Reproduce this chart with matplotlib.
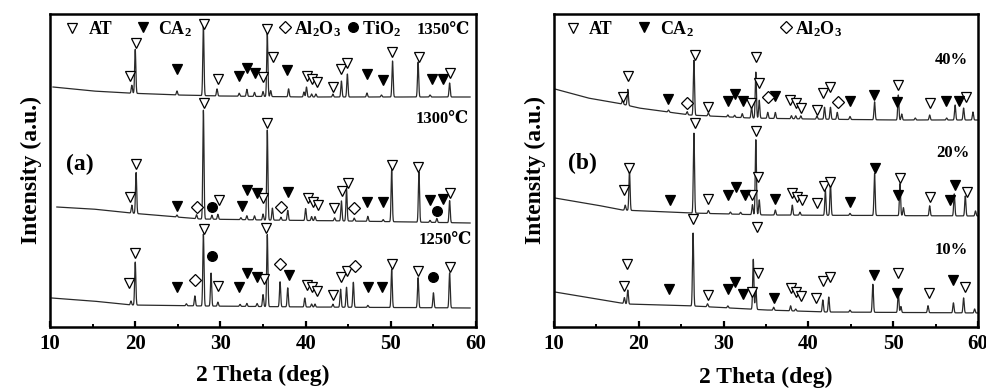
import numpy as np
import matplotlib
matplotlib.use("Agg")
import matplotlib.pyplot as plt
from matplotlib.ticker import MultipleLocator

plt.rcParams['font.family'] = ['Liberation Serif', 'DejaVu Serif']
plt.rcParams['font.weight'] = 'bold'
plt.rcParams['axes.labelweight'] = 'bold'
plt.rcParams['mathtext.fontset'] = 'custom'
plt.rcParams['mathtext.rm'] = 'Liberation Serif:bold'
plt.rcParams['mathtext.bf'] = 'Liberation Serif:bold'
plt.rcParams['mathtext.default'] = 'bf'

# ---- panel (a): sintering temperature ----
# baseline anchors (2theta, intensity a.u.)
b1350_x = [10.35, 15, 19, 25, 30, 40, 59.3]
b1350_y = [240, 236, 234, 232, 231, 230, 230]
p1350_x = [19.6, 20.0, 24.9, 28.0, 29.6, 32.2, 33.1, 34.0, 35.0, 35.5, 35.9, 38.0, 39.8, 40.1,
           40.7, 41.2, 43.2, 44.2, 44.9, 47.2, 48.9, 50.2, 53.2, 54.6, 56.9]
p1350_h = [8, 44, 4, 70, 7, 3, 7, 4, 5, 63, 6, 8, 5, 10, 3, 3, 3, 16, 23, 4, 2, 36, 35, 2, 14]

b1300_x = [10.8, 15, 19.4, 27.6, 35, 45, 59.3]
b1300_y = [120, 118, 114, 108, 107, 106, 104]
p1300_x = [19.6, 20.1, 24.9, 27.2, 28.0, 29.0, 29.7, 32.4, 33.1, 34.0, 35.0, 35.5, 36.1, 37.1,
           37.9, 40.0, 40.7, 41.1, 43.4, 44.2, 44.8, 45.7, 47.3, 49.1, 50.1, 53.3, 54.6, 55.4, 56.9]
p1300_h = [8, 41, 2, 4, 109, 4, 5, 2, 4, 4, 6, 90, 12, 3, 10, 12, 4, 4, 3, 20, 32, 3, 5, 2,
           52, 50, 2, 4, 22]

b1250_x = [10.2, 15, 19.5, 28, 40, 59.3]
b1250_y = [29, 26, 22, 21, 20, 19]
p1250_x = [19.5, 20.0, 26.0, 27.0, 28.0, 28.9, 29.7, 32.3, 33.1, 34.3, 35.0, 35.5, 37.0, 37.9,
           39.9, 40.7, 41.1, 43.2, 44.1, 44.8, 45.6, 47.3, 50.1, 53.2, 55.0, 56.9]
p1250_h = [4, 43, 2, 10, 72, 33, 4, 2, 3, 3, 12, 72, 25, 19, 9, 3, 3, 3, 18, 20, 25, 2, 38,
           30, 15, 35]

# phase markers (2theta, intensity)
at_a = [(19.4, 251), (20.1, 284), (28.1, 303), (29.7, 248), (35.0, 250), (35.5, 298), (36.2, 270),
        (40.2, 251), (40.7, 248), (41.3, 245), (43.2, 240), (44.2, 258), (44.9, 264), (50.1, 275),
        (53.3, 270), (56.9, 254),
        (19.4, 130), (20.1, 163), (28.1, 224), (29.8, 127), (35.0, 129), (35.5, 204), (40.3, 129),
        (40.9, 125), (41.5, 122), (43.3, 119), (44.3, 136), (45.0, 144), (50.1, 162), (53.2, 160),
        (56.9, 134),
        (19.3, 44), (20.0, 74), (28.1, 98), (29.7, 41), (35.1, 48), (35.4, 99), (40.2, 42),
        (40.7, 40), (41.3, 36), (43.2, 32), (44.1, 50), (44.8, 56), (50.1, 63), (53.2, 56),
        (56.9, 60)]
ca2_a = [(24.9, 258), (32.2, 251), (33.1, 259), (34.1, 254), (37.8, 257), (47.2, 253), (49.1, 247),
         (54.8, 248), (56.1, 248),
         (24.9, 121), (32.5, 121), (33.1, 137), (34.3, 134), (37.9, 135), (47.2, 125), (49.1, 125),
         (54.6, 127), (56.1, 128),
         (24.9, 40), (32.2, 40), (33.1, 54), (34.3, 50), (38.1, 52), (47.3, 40), (49.0, 40)]
al2o3_a = [(27.2, 120), (37.1, 120), (45.7, 119), (27.0, 47), (37.0, 63), (45.8, 61)]
tio2_a = [(29.0, 120), (55.4, 116), (29.0, 71), (55.0, 50)]
labels_a = [(59.3, 297, '1350℃'), (59.1, 208, '1300℃'), (59.5, 87, '1250℃')]

# ---- panel (b): additive content ----
b40_x = [10.1, 14, 18, 20, 26, 33, 40, 50, 60]
b40_y = [238, 229, 223, 219, 212, 209, 208, 207, 207]
p40_x = [18.1, 18.7, 23.5, 25.7, 26.5, 28.2, 30.5, 31.3, 32.2, 33.3, 33.8, 34.2, 35.2, 36.1, 38.0,
         38.5, 39.1, 41.0, 41.9, 42.6, 43.4, 44.9, 47.8, 50.6, 51.0, 52.6, 54.3, 56.3, 57.3, 58.3, 59.4]
p40_h = [5, 16, 2, 3, 55, 3, 2, 2, 4, 11, 46, 18, 6, 6, 3, 3, 3, 3, 12, 12, 7, 3, 18, 25, 6, 2,
         5, 2, 15, 12, 8]

b20_x = [10.1, 15, 18, 26, 35, 60]
b20_y = [129, 122, 117, 114, 112, 111]
p20_x = [18.4, 18.9, 26.5, 28.2, 30.8, 32.0, 33.4, 33.8, 34.2, 36.1, 38.1, 39.0, 42.0, 42.6, 44.9,
         47.8, 50.8, 51.2, 54.3, 57.2, 58.5, 59.7]
p20_h = [5, 40, 80, 3, 2, 2, 10, 75, 15, 5, 10, 3, 25, 32, 2, 42, 32, 8, 10, 22, 20, 5]

b10_x = [10.1, 15, 18.6, 26.4, 35, 42, 60]
b10_y = [35, 28, 23, 21, 17, 15, 14]
p10_x = [18.3, 18.7, 26.4, 28.1, 30.5, 33.5, 33.8, 35.9, 37.9, 38.5, 41.7, 42.4, 44.9, 47.6, 50.6,
         50.9, 54.1, 57.1, 58.3, 59.6]
p10_h = [6, 14, 73, 3, 2, 50, 22, 3, 5, 2, 12, 15, 2, 28, 20, 6, 7, 10, 15, 4]

at_b = [(18.1, 230), (18.7, 251), (26.6, 272), (28.2, 220), (33.2, 224), (33.8, 270), (34.2, 244),
        (37.8, 227), (38.5, 224), (39.1, 219), (41.0, 217), (41.7, 234), (42.6, 240), (50.6, 242),
        (54.3, 224), (58.6, 230),
        (18.3, 137), (18.8, 159), (26.6, 204), (28.2, 128), (33.3, 132), (33.8, 196), (34.1, 150),
        (38.1, 134), (38.7, 130), (39.3, 127), (41.0, 124), (41.8, 141), (42.6, 145), (50.8, 149),
        (54.3, 130), (58.7, 135),
        (18.2, 41), (18.6, 63), (26.4, 108), (28.2, 32), (33.3, 35), (33.9, 100), (34.1, 54),
        (38.0, 39), (38.5, 35), (39.1, 31), (40.9, 29), (41.7, 46), (42.5, 50), (50.6, 54),
        (54.2, 34), (58.5, 40)]
ca2_b = [(23.5, 228), (30.5, 226), (31.3, 233), (32.3, 226), (36.1, 231), (44.9, 226), (47.7, 232),
         (50.5, 225), (56.2, 226), (57.7, 226),
         (23.7, 127), (30.5, 132), (31.5, 140), (32.5, 132), (36.1, 128), (44.9, 125), (47.9, 159),
         (50.6, 132), (56.7, 127), (57.3, 142),
         (23.6, 38), (30.5, 38), (31.3, 45), (32.3, 33), (35.9, 29), (47.7, 52), (50.4, 34),
         (57.1, 47)]
al2o3_b = [(25.7, 224), (35.2, 230), (43.5, 225)]
labels_b = [(58.8, 267, '40%'), (59.0, 174, '20%'), (58.8, 77, '10%')]


def pattern(x, bx, by, px, ph, w=0.07):
    y = np.interp(x, bx, by)
    for p, h in zip(px, ph):
        y = y + h * np.exp(-0.5 * ((x - p) / w) ** 2)
    return y


def draw_markers(ax, pts, marker, face, ms):
    xs = [p[0] for p in pts]
    ys = [p[1] for p in pts]
    ax.plot(xs, ys, ls='none', marker=marker, ms=ms, mfc=face, mec='black', mew=0.9, zorder=3)


fig = plt.figure(figsize=(9.87, 3.89), dpi=100)
ax1 = fig.add_axes([0.0507, 0.1594, 0.4316, 0.8046])
ax2 = fig.add_axes([0.5613, 0.1594, 0.4296, 0.8046])

line_kw = dict(color='#2a2a2a', lw=0.9)
for bx, by, px, ph in [(b1350_x, b1350_y, p1350_x, p1350_h),
                       (b1300_x, b1300_y, p1300_x, p1300_h),
                       (b1250_x, b1250_y, p1250_x, p1250_h)]:
    x = np.linspace(bx[0], bx[-1], 6000)
    ax1.plot(x, pattern(x, bx, by, px, ph), **line_kw)
for bx, by, px, ph in [(b40_x, b40_y, p40_x, p40_h),
                       (b20_x, b20_y, p20_x, p20_h),
                       (b10_x, b10_y, p10_x, p10_h)]:
    x = np.linspace(bx[0], bx[-1], 6000)
    ax2.plot(x, pattern(x, bx, by, px, ph), **line_kw)

draw_markers(ax1, at_a, 'v', 'white', 7.5)
draw_markers(ax1, ca2_a, 'v', 'black', 7.5)
draw_markers(ax1, al2o3_a, 'D', 'white', 6)
draw_markers(ax1, tio2_a, 'o', 'black', 7)
draw_markers(ax2, at_b, 'v', 'white', 7.5)
draw_markers(ax2, ca2_b, 'v', 'black', 7.5)
draw_markers(ax2, al2o3_b, 'D', 'white', 6)

# legend rows
leg_y = 298
draw_markers(ax1, [(12.6, leg_y + 1)], 'v', 'white', 7.5)
ax1.text(14.5, leg_y, 'AT', fontsize=13, va='center')
draw_markers(ax1, [(20.9, leg_y + 2)], 'v', 'black', 7.5)
ax1.text(22.7, leg_y, 'CA$_2$', fontsize=13, va='center')
draw_markers(ax1, [(37.6, leg_y + 2)], 'D', 'white', 6)
ax1.text(38.6, leg_y, 'Al$_2$O$_3$', fontsize=13, va='center')
draw_markers(ax1, [(45.6, leg_y + 2)], 'o', 'black', 7)
ax1.text(46.6, leg_y, 'TiO$_2$', fontsize=13, va='center')

draw_markers(ax2, [(12.2, leg_y + 1)], 'v', 'white', 7.5)
ax2.text(14.1, leg_y, 'AT', fontsize=13, va='center')
draw_markers(ax2, [(20.6, leg_y + 2)], 'v', 'black', 7.5)
ax2.text(22.5, leg_y, 'CA$_2$', fontsize=13, va='center')
draw_markers(ax2, [(37.4, leg_y + 2)], 'D', 'white', 6)
ax2.text(38.4, leg_y, 'Al$_2$O$_3$', fontsize=13, va='center')

for x, y, s in labels_a:
    ax1.text(x, y, s, fontsize=12, ha='right', va='center')
for x, y, s in labels_b:
    ax2.text(x, y, s, fontsize=12, ha='right', va='center')
ax1.text(11.9, 163, '(a)', fontsize=17, va='center')
ax2.text(11.6, 164, '(b)', fontsize=17, va='center')

for ax, lp in ((ax1, 8), (ax2, 9.5)):
    ax.set_xlim(10, 60)
    ax.set_ylim(0, 313)
    ax.xaxis.set_major_locator(MultipleLocator(10))
    ax.xaxis.set_minor_locator(MultipleLocator(5))
    ax.tick_params(axis='x', which='major', direction='in', length=4, width=1.6,
                   labelsize=15, pad=5)
    ax.tick_params(axis='x', which='minor', direction='in', length=2.5, width=1.4)
    ax.tick_params(axis='y', left=False, labelleft=False)
    for sp in ax.spines.values():
        sp.set_linewidth(1.8)
    ax.set_xlabel('2 Theta (deg)', fontsize=17, labelpad=lp)
    ax.set_ylabel('Intensity (a.u.)', fontsize=17, labelpad=6)

fig.savefig('out.png', dpi=100)
